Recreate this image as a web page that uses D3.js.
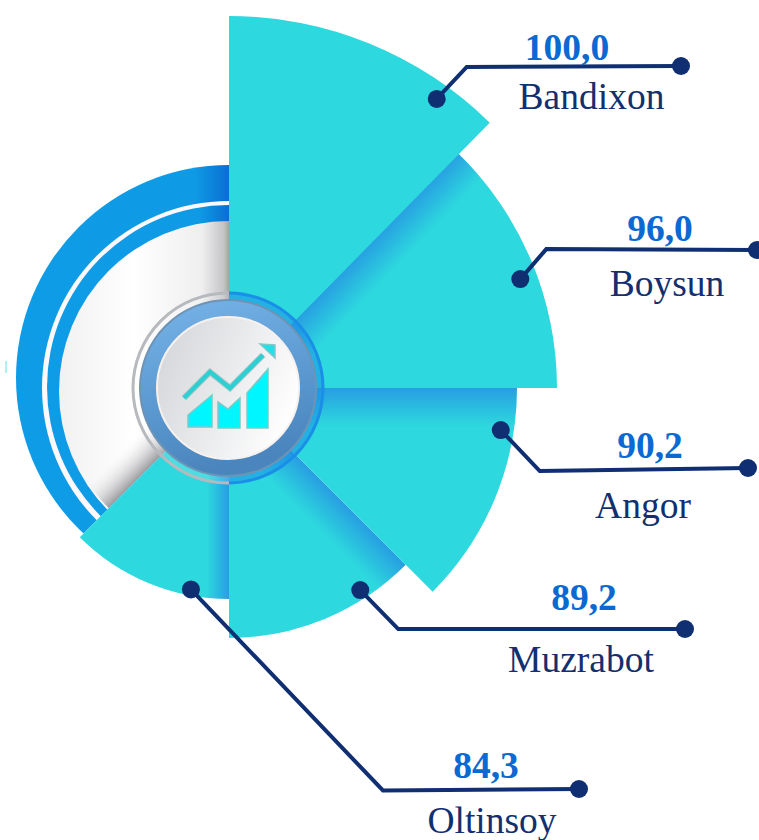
<!DOCTYPE html>
<html><head><meta charset="utf-8">
<style>html,body{margin:0;padding:0;background:#fff}svg{display:block}</style>
<script src="https://cdn.jsdelivr.net/npm/d3@7"></script></head>
<body><svg id="c" width="759" height="840"></svg>
<script>
// Data
const categories = ["Bandixon","Boysun","Angor","Muzrabot","Oltinsoy"];
const values = [100.0,96.0,90.2,89.2,84.3];
const valueLabels = ["100,0","96,0","90,2","89,2","84,3"];

// Layout (not data)
const W=759,H=840,cx=229,cy=388;
const deg=Math.PI/180;
const radius=d3.scaleLinear().domain([84.3,89.2,90.2,96,100]).range([211,250,288,328,372]);
const sliceStart=[0,44,90,135,180].map(a=>a*deg);
const sliceEnd=[44.5,90,135,180,225].map(a=>a*deg);
const shadeWidth=[0,36,38,36,22];
const dotAngle=[35.7,69.5,98.8,147,190.7].map(a=>a*deg);
const dotInset=[16,17,13,9,6];
const elbow=[[30,-32],[26,-30],[39,41],[38,39],[192,201]];
const lineEnd=[[681,66],[757,250],[748,468],[685,629],[579,789]];
const valueX=[567,660,650,584,486], valueY=[60,241,458,610,778];
const nameX=[591.5,667,643,581,492], nameY=[109,296,518,672,833];

const CYAN="#2dd8de",NAVY="#0f2f72",VALUE="#0a69d2",NAME="#12306f";
const svg=d3.select("#c");
const defs=svg.append("defs");
const arc=d3.arc();
const g=svg.append("g");

function lin(id,x1,y1,x2,y2,stops,user){
  const l=defs.append("linearGradient").attr("id",id)
    .attr("x1",x1).attr("y1",y1).attr("x2",x2).attr("y2",y2);
  if(user)l.attr("gradientUnits","userSpaceOnUse");
  stops.forEach(s=>{
    const st=l.append("stop").attr("offset",s[0]).attr("stop-color",s[1]);
    if(s[2]!==undefined)st.attr("stop-opacity",s[2]);
  });
}
function edgeShade(id,a,w,c){
  lin(id,0,0,Math.cos(a)*w,Math.sin(a)*w,[[0,c],[1,CYAN]],true);
}

// Left sector: ring and pale disc
const leftStart=225*deg,leftEnd=360*deg;
defs.append("clipPath").attr("id","leftClip").append("path")
  .attr("transform",`translate(${cx},${cy})`)
  .attr("d",arc({innerRadius:0,outerRadius:420,startAngle:leftStart,endAngle:leftEnd}));
lin("ringG",0,0,1,0,[[0,"#0f9ce6"],[.42,"#0e9ae4"],[.5,"#0a6ed2"]]);
lin("discG",0,0,1,0,[[0,"#f1f1f2"],[.22,"#ffffff"],[.42,"#efeff0"],[.485,"#c4c4c6"],[.5,"#a4a4a8"]]);
const left=g.append("g").attr("clip-path","url(#leftClip)");
left.append("circle").attr("cx",cx).attr("cy",cy-10).attr("r",213).attr("fill","url(#ringG)");
left.append("circle").attr("cx",cx).attr("cy",cy).attr("r",187).attr("fill","#fdf8fc");
left.append("circle").attr("cx",cx).attr("cy",cy-1).attr("r",182).attr("fill","url(#ringG)");
left.append("circle").attr("cx",cx).attr("cy",cy+3).attr("r",170).attr("fill","url(#discG)");
// shadow along the lower edge of the pale disc
const sa=leftStart;
lin("discShade",0,0,Math.cos(sa)*34,Math.sin(sa)*34,[[0,"#8f8f94",.9],[1,"#ffffff",0]],true);
left.append("path").attr("transform",`translate(${cx},${cy})`)
  .attr("d",arc({innerRadius:0,outerRadius:170,startAngle:leftStart,endAngle:leftStart+30*deg}))
  .attr("fill","url(#discShade)");
g.append("rect").attr("x",5).attr("y",361).attr("width",2).attr("height",12).attr("fill","#aef0f3");

// Slices
d3.range(categories.length).reverse().forEach(i=>{
  let fill=CYAN;
  if(shadeWidth[i]>0){
    edgeShade("sl"+i,sliceStart[i],shadeWidth[i],"#279ee2");
    fill=`url(#sl${i})`;
  }
  g.append("path").attr("transform",`translate(${cx},${cy})`)
    .attr("d",arc({innerRadius:0,outerRadius:radius(values[i]),startAngle:sliceStart[i],endAngle:sliceEnd[i]}))
    .attr("fill",fill);
});

// Hub
const hub=g.append("g").attr("transform",`translate(${cx-1},${cy})`);
defs.append("clipPath").attr("id","hubR").append("rect").attr("x",1).attr("y",-110).attr("width",120).attr("height",220);
defs.append("clipPath").attr("id","hubL").append("rect").attr("x",-120).attr("y",-110).attr("width",121).attr("height",220);
hub.append("circle").attr("r",95).attr("fill","#ffffff").attr("fill-opacity",.15)
  .attr("stroke","#b6b9bd").attr("stroke-width",3).attr("clip-path","url(#hubL)");
hub.append("circle").attr("r",95).attr("fill","#1c8fe6").attr("fill-opacity",.55)
  .attr("stroke","#1a8fe8").attr("stroke-width",3).attr("clip-path","url(#hubR)");
lin("hubBand",0,0,.25,1,[[0,"#78b4e8"],[.5,"#5f9dd4"],[1,"#4a86bd"]]);
hub.append("circle").attr("r",88).attr("fill","url(#hubBand)").attr("stroke","#6f93b4").attr("stroke-width",2);
lin("hubDisc",0,.2,1,.6,[[0,"#d4d6d9"],[.5,"#e9eaec"],[1,"#ffffff"]]);
hub.append("circle").attr("r",71).attr("fill","url(#hubDisc)").attr("stroke","#f6f1ee").attr("stroke-width",2);

// Icon (pictogram)
const icon=g.append("g").attr("stroke","#7fc9c6").attr("stroke-width",1.5);
const polys=[[[188,427],[188,415],[212,395],[212,427]],
             [[218,428],[218,402],[228,409],[240,398],[240,428]],
             [[247,428],[247,393],[268,369],[268,428]]];
const line=d3.line();
polys.forEach(p=>icon.append("path").attr("d",line(p)+"Z").attr("fill","#00f6ff"));
g.append("path").attr("d",line([[184,398],[210,372],[230,388],[263,355]]))
  .attr("fill","none").attr("stroke","#b9c9c8").attr("stroke-width",6.5);
g.append("path").attr("d",line([[184,398],[210,372],[230,388],[263,355]]))
  .attr("fill","none").attr("stroke","#2ccfd2").attr("stroke-width",4.5);
g.append("path").attr("d",line([[260,344],[275,345],[275,358]])+"Z")
  .attr("fill","#22e0e8").attr("stroke","#7fc9c6").attr("stroke-width",1.5);

// Leaders and labels
categories.forEach((c,i)=>{
  const r=radius(values[i])-dotInset[i],a=dotAngle[i];
  const p0=[cx+r*Math.sin(a),cy-r*Math.cos(a)];
  const p1=[p0[0]+elbow[i][0],p0[1]+elbow[i][1]];
  const p2=lineEnd[i];
  g.append("path").attr("d",line([p0,p1,p2])).attr("fill","none")
    .attr("stroke",NAVY).attr("stroke-width",4).attr("stroke-linejoin","miter");
  [p0,p2].forEach(p=>g.append("circle").attr("cx",p[0]).attr("cy",p[1]).attr("r",9).attr("fill",NAVY));
  g.append("text").attr("x",valueX[i]).attr("y",valueY[i]).attr("text-anchor","middle")
    .attr("font-family","'Liberation Serif',serif").attr("font-weight",700).attr("font-size",37.5)
    .attr("fill",VALUE).text(valueLabels[i]);
  g.append("text").attr("x",nameX[i]).attr("y",nameY[i]).attr("text-anchor","middle")
    .attr("font-family","'Liberation Serif',serif").attr("font-size",37.5)
    .attr("fill",NAME).text(c);
});
</script></body></html>
